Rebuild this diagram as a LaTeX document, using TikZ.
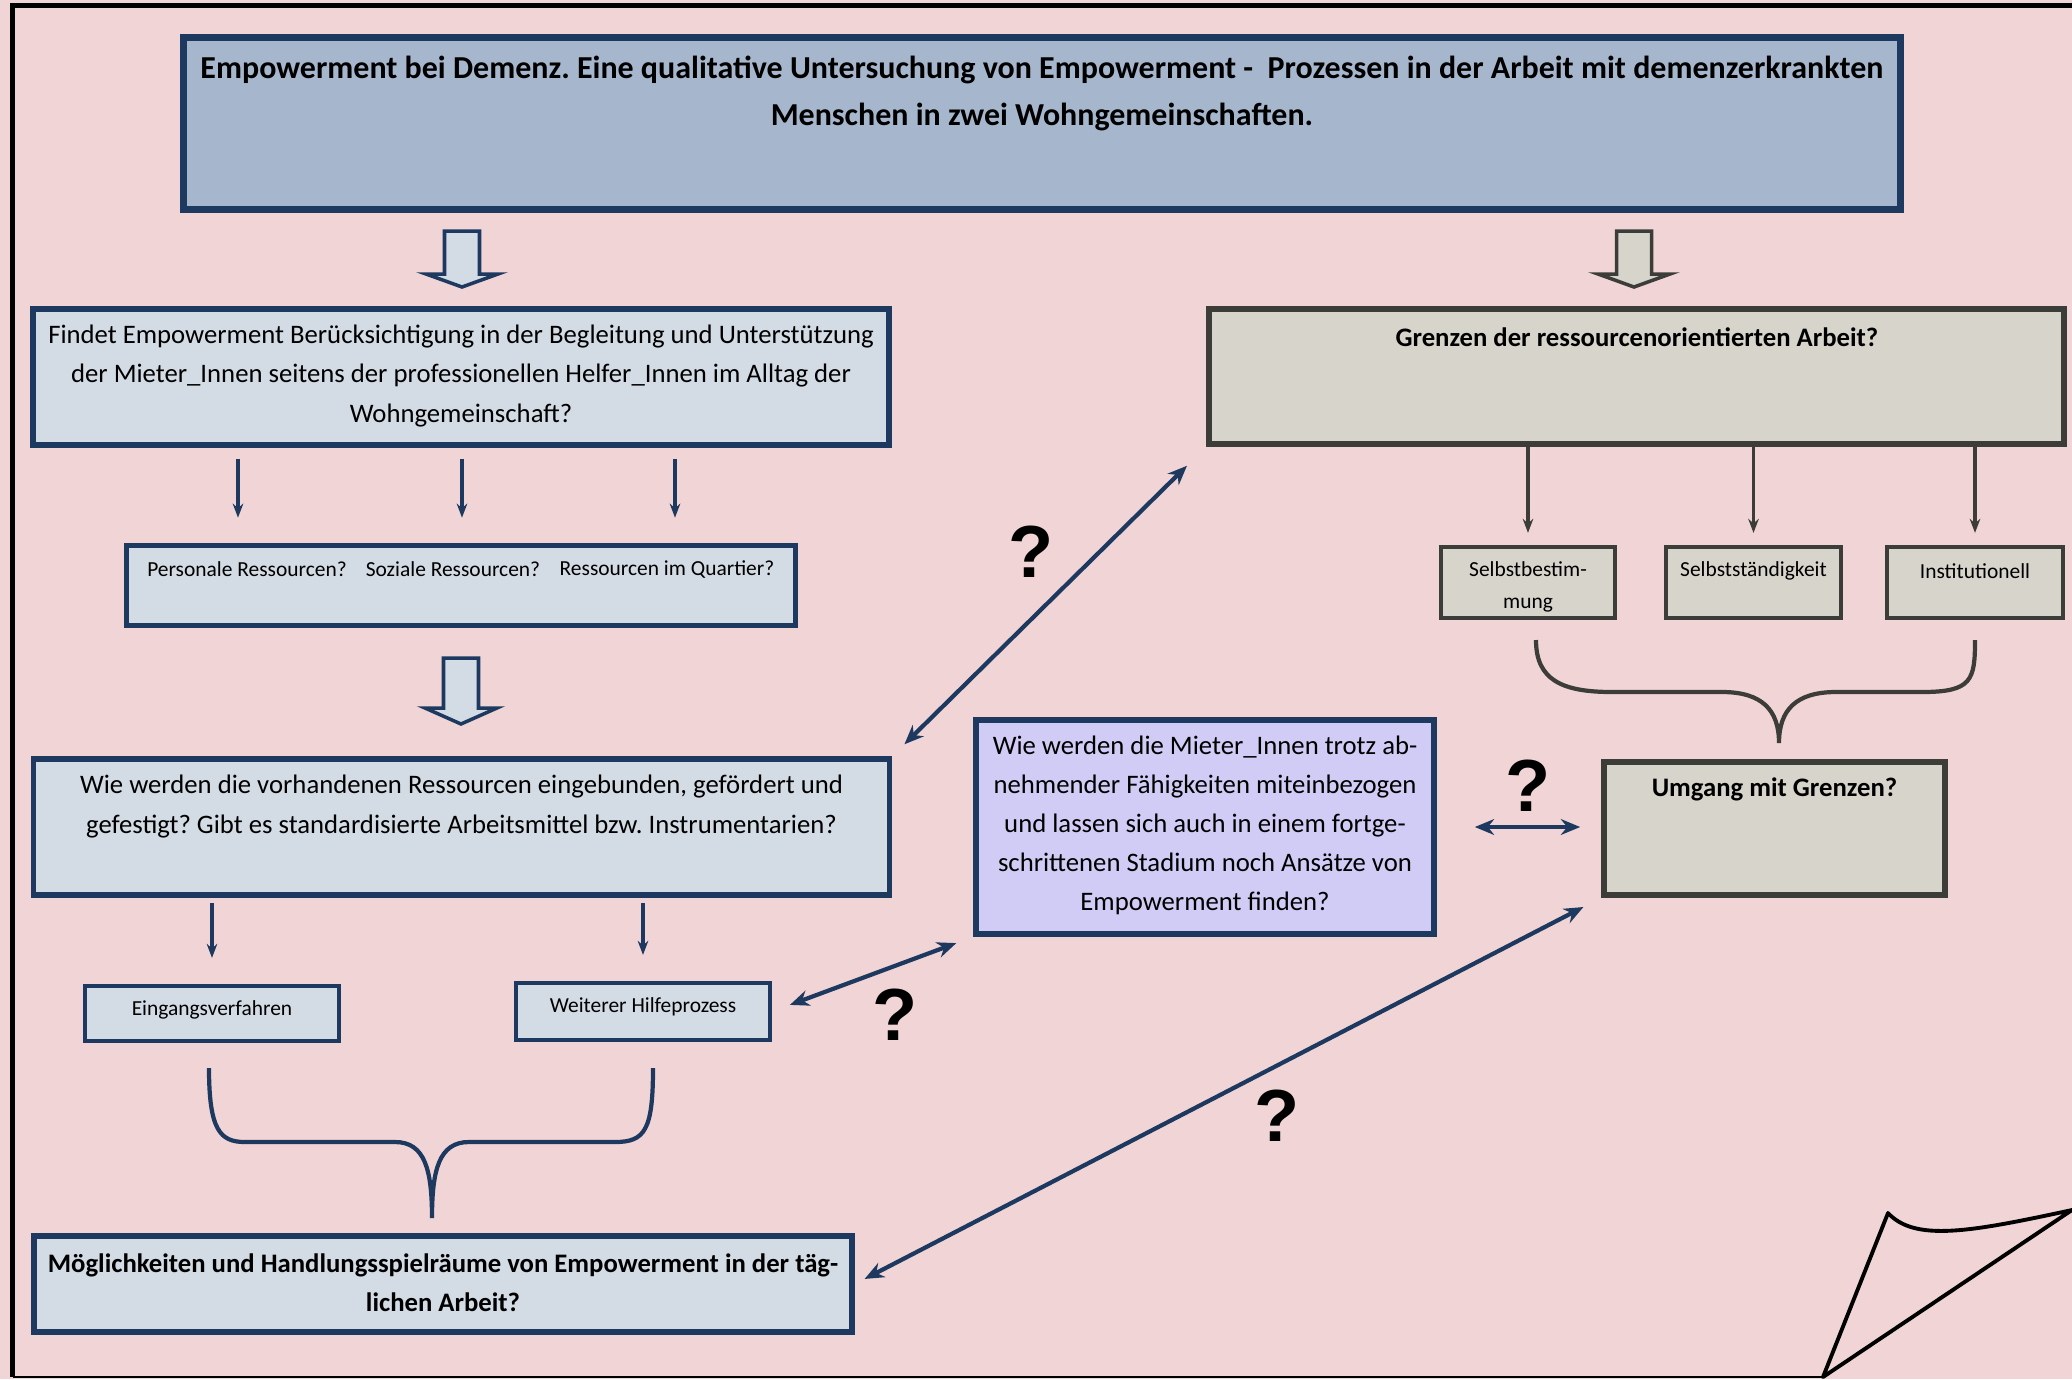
\documentclass[tikz,border=0pt]{standalone}
\usepackage{fontspec}
\setmainfont{Carlito}
\newfontfamily\qfont{Liberation Sans}
\usepackage{tikz}
\usetikzlibrary{arrows.meta}
\frenchspacing

\definecolor{bgpink}{HTML}{F1D5D6}
\definecolor{navy}{HTML}{1D3960}
\definecolor{boxblue}{HTML}{D3DBE4}
\definecolor{titleblue}{HTML}{A6B7CD}
\definecolor{boxgray}{HTML}{D7D4CB}
\definecolor{darkgray}{HTML}{3C3C38}
\definecolor{lavender}{HTML}{D0CCF5}

\tikzset{
  bluebox/.style={draw=navy, fill=boxblue, line width=1.6pt, inner sep=0pt},
  graybox/.style={draw=darkgray, fill=boxgray, line width=1.6pt, inner sep=0pt},
  txt/.style={align=center, inner sep=0pt, font=\fontsize{7.6}{11.1}\selectfont},
  smalltxt/.style={align=center, inner sep=0pt, font=\fontsize{6.1}{9}\selectfont},
  boldtxt/.style={align=center, inner sep=0pt, font=\bfseries\fontsize{7.6}{11.1}\selectfont},
  thinarrow/.style={-{Stealth[length=4pt,width=3pt]}, line width=0.9pt},
  linkarrow/.style={{Stealth[length=5.5pt,width=4.5pt]}-{Stealth[length=5.5pt,width=4.5pt]}, draw=navy, line width=1.2pt},
  blockblue/.style={draw=navy, fill=boxblue, line width=1pt},
  blockgray/.style={draw=darkgray, fill=boxgray, line width=1pt},
  qmark/.style={font=\qfont\bfseries\fontsize{21}{21}\selectfont, inner sep=0pt},
  brace/.style={line width=1.2pt},
}

\begin{document}
\begin{tikzpicture}[x=1cm, y=-1cm]
\fill[bgpink] (0,0) rectangle (20.72,13.79);
\useasboundingbox (0,0) rectangle (20.72,13.79);

% page frame with curled corner
\draw[line width=1.4pt] (20.72,0.055) -- (0.125,0.055) -- (0.125,13.77);
\draw[line width=0.7pt] (0.125,13.77) -- (18.23,13.77);
\draw[line width=1.1pt, line join=round] (18.23,13.77) -- (18.88,12.13) .. controls (19.15,12.42) and (19.70,12.32) .. (20.72,12.10) -- cycle;

% title
\node[bluebox, fill=titleblue, line width=2pt, minimum width=17.17cm, minimum height=1.72cm] (title) at (10.42,1.235) {};
\node[boldtxt, font=\bfseries\fontsize{9.1}{13.6}\selectfont] (title-txt) at (10.42,0.935) {Empowerment bei Demenz. Eine qualitative Untersuchung von Empowerment - \ Prozessen in der Arbeit mit demenzerkrankten\\Menschen in zwei Wohngemeinschaften.};

\draw[blockblue] (4.445,2.31) -- (4.445,2.74) -- (4.26,2.74) -- (4.62,2.87) -- (4.98,2.74) -- (4.795,2.74) -- (4.795,2.31) -- cycle;
\draw[blockgray] (16.165,2.31) -- (16.165,2.74) -- (15.98,2.74) -- (16.34,2.87) -- (16.70,2.74) -- (16.515,2.74) -- (16.515,2.31) -- cycle;

% left column
\node[bluebox, minimum width=8.56cm, minimum height=1.36cm] (findet) at (4.61,3.77) {};
\node[txt] (findet-txt) at (4.61,3.76) {Findet Empowerment Berücksichtigung in der Begleitung und Unterstützung\\der Mieter\_Innen seitens der professionellen Helfer\_Innen im Alltag der\\Wohngemeinschaft?};

\node[bluebox, minimum width=6.69cm, minimum height=0.80cm] (res) at (4.61,5.855) {};
\node[smalltxt] (res-pers) at (2.47,5.69) {Personale Ressourcen?};
\node[smalltxt] (res-soz) at (4.53,5.69) {Soziale Ressourcen?};
\node[smalltxt] (res-quart) at (6.67,5.69) {Ressourcen im Quartier?};
\foreach \n/\dx in {res-pers/-0.09,res-soz/0.09,res-quart/0.08}
  \draw[thinarrow, navy, shorten <=0.11cm, shorten >=0.25cm] ([xshift=\dx cm]findet.south -| \n) -- ([xshift=\dx cm]\n |- res.north);

\draw[blockblue] (4.435,6.58) -- (4.435,7.08) -- (4.25,7.08) -- (4.61,7.24) -- (4.97,7.08) -- (4.785,7.08) -- (4.785,6.58) -- cycle;

\node[bluebox, minimum width=8.56cm, minimum height=1.36cm] (wie) at (4.615,8.27) {};
\node[txt] (wie-txt) at (4.615,8.065) {Wie werden die vorhandenen Ressourcen eingebunden, gefördert und\\gefestigt? Gibt es standardisierte Arbeitsmittel bzw. Instrumentarien?};

\node[bluebox, line width=1.2pt, minimum width=2.54cm, minimum height=0.55cm] (eing) at (2.12,10.135) {};
\node[smalltxt] (eing-txt) at (2.12,10.10) {Eingangsverfahren};
\node[bluebox, line width=1.2pt, minimum width=2.54cm, minimum height=0.57cm] (weiter) at (6.43,10.115) {};
\node[smalltxt] (weiter-txt) at (6.43,10.07) {Weiterer Hilfeprozess};
\foreach \n in {eing,weiter}
  \draw[thinarrow, navy, shorten <=0.05cm, shorten >=0.26cm] (wie.south -| \n) -- (\n.north);

\draw[brace, navy] (2.09,10.68) .. controls (2.09,11.30) and (2.20,11.42) .. (2.45,11.42) -- (3.95,11.42) .. controls (4.25,11.42) and (4.32,11.70) .. (4.32,12.18) .. controls (4.32,11.70) and (4.39,11.42) .. (4.69,11.42) -- (6.15,11.42) .. controls (6.45,11.42) and (6.53,11.30) .. (6.53,10.68);

\node[bluebox, minimum width=8.18cm, minimum height=0.96cm] (moeg) at (4.43,12.84) {};
\node[boldtxt] (moeg-txt) at (4.43,12.825) {Möglichkeiten und Handlungsspielräume von Empowerment in der täg-\\lichen Arbeit?};

% right column
\node[graybox, minimum width=8.55cm, minimum height=1.35cm] (grenzen) at (16.365,3.765) {};
\node[boldtxt] (grenzen-txt) at (16.37,3.37) {Grenzen der ressourcenorientierten Arbeit?};

\node[graybox, line width=1.2pt, minimum width=1.74cm, minimum height=0.71cm] (selbstb) at (15.28,5.825) {};
\node[smalltxt] (selbstb-txt) at (15.28,5.87) {Selbstbestim-\\mung};
\node[graybox, line width=1.2pt, minimum width=1.75cm, minimum height=0.71cm] (selbsts) at (17.535,5.825) {};
\node[smalltxt] (selbsts-txt) at (17.535,5.71) {Selbstständigkeit};
\node[graybox, line width=1.2pt, minimum width=1.76cm, minimum height=0.71cm] (instit) at (19.75,5.825) {};
\node[smalltxt] (instit-txt) at (19.75,5.71) {Institutionell};
\foreach \n in {selbstb,selbsts,instit}
  \draw[thinarrow, darkgray, shorten >=0.12cm] (grenzen.south -| \n) -- (\n.north);

\draw[brace, darkgray] (15.36,6.40) .. controls (15.36,6.80) and (15.62,6.92) .. (16.12,6.92) -- (17.22,6.92) .. controls (17.62,6.92) and (17.79,7.10) .. (17.79,7.43) .. controls (17.79,7.10) and (17.96,6.92) .. (18.36,6.92) -- (19.22,6.92) .. controls (19.72,6.92) and (19.75,6.80) .. (19.75,6.40);

\node[bluebox, fill=lavender, minimum width=4.58cm, minimum height=2.14cm] (mieter) at (12.05,8.27) {};
\node[txt] (mieter-txt) at (12.05,8.255) {Wie werden die Mieter\_Innen trotz ab-\\nehmender Fähigkeiten miteinbezogen\\und lassen sich auch in einem fortge-\\schrittenen Stadium noch Ansätze von\\Empowerment finden?};

\node[graybox, minimum width=3.41cm, minimum height=1.33cm] (umgang) at (17.745,8.285) {};
\node[boldtxt] (umgang-txt) at (17.745,7.89) {Umgang mit Grenzen?};

% links with question marks
\draw[linkarrow, shorten <=0.17cm, shorten >=0.27cm] (wie.north east) -- (grenzen.south west);
\draw[linkarrow, shorten <=0.19cm, shorten >=0.18cm] (weiter.east) -- (mieter.south west);
\draw[linkarrow, shorten <=0.11cm, shorten >=0.20cm] (moeg.east) -- (umgang.south west);
\draw[linkarrow, shorten <=0.38cm, shorten >=0.21cm] (mieter.east) -- (mieter.east -| umgang.west);

\node[qmark] (q1) at (10.31,5.52) {?};
\node[qmark] (q2) at (8.95,10.15) {?};
\node[qmark] (q3) at (15.28,7.86) {?};
\node[qmark] (q4) at (12.77,11.16) {?};
\end{tikzpicture}
\end{document}
